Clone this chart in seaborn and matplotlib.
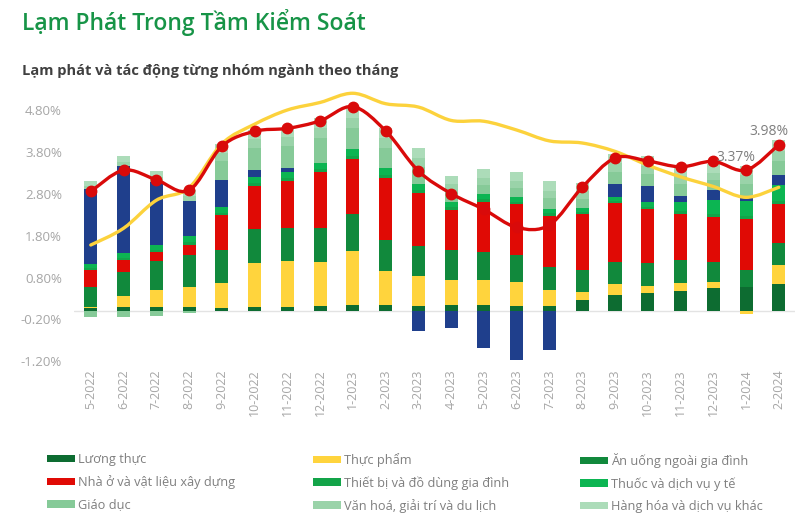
import numpy as np
import seaborn as sns
import matplotlib.pyplot as plt
from matplotlib.path import Path
from matplotlib.patches import PathPatch, Patch

months = ['5-2022', '6-2022', '7-2022', '8-2022', '9-2022', '10-2022', '11-2022',
          '12-2022', '1-2023', '2-2023', '3-2023', '4-2023', '5-2023', '6-2023',
          '7-2023', '8-2023', '9-2023', '10-2023', '11-2023', '12-2023', '1-2024', '2-2024']

# dong gop cua tung nhom (diem %)
luong_thuc = [0.07, 0.10, 0.10, 0.09, 0.08, 0.10, 0.10, 0.12, 0.14, 0.14, 0.13,
              0.14, 0.14, 0.13, 0.13, 0.26, 0.38, 0.42, 0.48, 0.54, 0.57, 0.64]
thuc_pham = [0.02, 0.27, 0.41, 0.48, 0.58, 1.06, 1.09, 1.06, 1.30, 0.82, 0.70,
             0.61, 0.61, 0.56, 0.38, 0.19, 0.26, 0.19, 0.20, 0.15, -0.06, 0.46]
an_uong = [0.48, 0.56, 0.68, 0.76, 0.80, 0.80, 0.80, 0.81, 0.89, 0.74, 0.73,
           0.70, 0.67, 0.65, 0.54, 0.54, 0.54, 0.53, 0.53, 0.49, 0.42, 0.52]
nha_o = [0.42, 0.29, 0.22, 0.26, 0.83, 1.04, 1.12, 1.34, 1.30, 1.49, 1.27,
         0.97, 1.20, 1.22, 1.23, 1.34, 1.40, 1.31, 1.12, 1.07, 1.22, 0.95]
thiet_bi = [0.05, 0.05, 0.06, 0.06, 0.06, 0.06, 0.07, 0.07, 0.08, 0.07, 0.07,
            0.06, 0.06, 0.06, 0.06, 0.05, 0.05, 0.05, 0.06, 0.07, 0.07, 0.07]
thuoc = [0.09, 0.11, 0.12, 0.14, 0.15, 0.14, 0.15, 0.15, 0.16, 0.15, 0.14,
         0.12, 0.12, 0.11, 0.11, 0.09, 0.10, 0.11, 0.21, 0.33, 0.36, 0.37]
giao_thong = [1.78, 2.09, 1.50, 0.85, 0.64, 0.18, 0.09, 0.00, 0.00, 0.00, -0.47,
              -0.40, -0.89, -1.17, -0.93, 0.00, 0.30, 0.37, 0.16, 0.24, 0.10, 0.25]
giao_duc = [-0.14, -0.15, -0.12, -0.04, 0.45, 0.52, 0.53, 0.58, 0.50, 0.48, 0.40,
            0.25, 0.22, 0.22, 0.25, 0.22, 0.30, 0.30, 0.29, 0.24, 0.30, 0.34]
van_hoa = [0.08, 0.10, 0.12, 0.12, 0.20, 0.22, 0.22, 0.25, 0.26, 0.25, 0.22,
           0.18, 0.17, 0.17, 0.18, 0.18, 0.20, 0.20, 0.19, 0.18, 0.22, 0.24]
hang_hoa = [0.12, 0.13, 0.15, 0.14, 0.20, 0.20, 0.22, 0.25, 0.25, 0.24, 0.23,
            0.20, 0.20, 0.20, 0.22, 0.20, 0.22, 0.22, 0.22, 0.20, 0.22, 0.25]

# lam phat chung va lam phat co ban (%)
cpi = [2.86, 3.37, 3.14, 2.89, 3.94, 4.30, 4.37, 4.55, 4.89, 4.31, 3.35,
       2.81, 2.43, 2.00, 2.06, 2.96, 3.66, 3.59, 3.45, 3.58, 3.37, 3.98]
core = [1.58, 1.98, 2.65, 2.95, 4.00, 4.47, 4.81, 4.99, 5.21, 4.96, 4.88,
        4.56, 4.54, 4.33, 4.07, 4.02, 3.82, 3.49, 3.21, 2.98, 2.72, 2.96]

series = [
    ('Lương thực', luong_thuc, '#0d6c31'),
    ('Thực phẩm', thuc_pham, '#ffd43d'),
    ('Ăn uống ngoài gia đình', an_uong, '#11893c'),
    ('Nhà ở và vật liệu xây dựng', nha_o, '#e00a05'),
    ('Thiết bị và đồ dùng gia đình', thiet_bi, '#13a449'),
    ('Thuốc và dịch vụ y tế', thuoc, '#0cb552'),
    ('Giao thông', giao_thong, '#1f3f8c'),
    ('Giáo dục', giao_duc, '#86ca98'),
    ('Văn hoá, giải trí và du lịch', van_hoa, '#9ad3a9'),
    ('Hàng hóa và dịch vụ khác', hang_hoa, '#acdcb9'),
]

sns.set_theme(style='white')
plt.rcParams['font.family'] = ['Open Sans', 'DejaVu Sans']

fig = plt.figure(figsize=(8, 5.24), dpi=100)
ax = fig.add_axes([0.093, 0.3107, 0.901, 0.5185])

x = np.arange(len(months))
pos_bottom = np.zeros(len(months))
neg_bottom = np.zeros(len(months))
for name, vals, color in series:
    v = np.array(vals)
    pos = np.where(v > 0, v, 0)
    neg = np.where(v < 0, v, 0)
    ax.bar(x, pos, bottom=pos_bottom, width=0.4, color=color, linewidth=0, zorder=2)
    ax.bar(x, neg, bottom=neg_bottom, width=0.4, color=color, linewidth=0, zorder=2)
    pos_bottom += pos
    neg_bottom += neg

ax.axhline(0, color='#e3e3e3', lw=1, zorder=1)


def smooth_path(xs, ys):
    pts = np.column_stack([xs, ys]).astype(float)
    verts = [pts[0]]
    codes = [Path.MOVETO]
    n = len(pts)
    for i in range(n - 1):
        p0 = pts[max(i - 1, 0)]
        p1 = pts[i]
        p2 = pts[i + 1]
        p3 = pts[min(i + 2, n - 1)]
        verts += [p1 + (p2 - p0) / 6, p2 - (p3 - p1) / 6, p2]
        codes += [Path.CURVE4] * 3
    return Path(verts, codes)


ax.add_patch(PathPatch(smooth_path(x, core), fill=False, edgecolor='#fcd23c',
                       lw=2.4, zorder=3, capstyle='round'))
ax.add_patch(PathPatch(smooth_path(x, cpi), fill=False, edgecolor='#d90a0a',
                       lw=2.4, zorder=4, capstyle='round'))
ax.plot(x, cpi, 'o', color='#d90a0a', ms=7.5, zorder=5)

ax.annotate('3.98%', (x[-1], cpi[-1]), xytext=(-7, 4), textcoords='offset points',
            ha='center', va='bottom', fontsize=10, color='#7f7f7f', zorder=6)
ax.annotate('3.37%', (x[-2], cpi[-2]), xytext=(-7, 4), textcoords='offset points',
            ha='center', va='bottom', fontsize=10, color='#7f7f7f', zorder=6)

ax.set_xlim(-0.5, len(months) - 0.5)
ax.set_ylim(-1.2, 5.3)
yt = [-1.2, -0.2, 0.8, 1.8, 2.8, 3.8, 4.8]
ax.set_yticks(yt)
ax.set_yticklabels([f'{t:.2f}%' for t in yt], fontsize=9.5, color='#a6a6a6')
ax.set_xticks(x)
ax.set_xticklabels(months, rotation=90, fontsize=9, color='#a6a6a6')
ax.tick_params(axis='both', length=0)
ax.tick_params(axis='y', pad=9)
ax.tick_params(axis='x', pad=6)
for s in ax.spines.values():
    s.set_visible(False)
ax.grid(False)

fig.text(0.027, 0.958, 'Lạm Phát Trong Tầm Kiểm Soát', fontsize=16.5, color='#179447',
         weight='semibold', va='center', ha='left')
fig.text(0.027, 0.865, 'Lạm phát và tác động từng nhóm ngành theo tháng', fontsize=10.5,
         color='#404040', weight='bold', va='center', ha='left')

# legend: 3 cot, moi cot 3 dong (bo Giao thong)
cols = [[0, 3, 7], [1, 4, 8], [2, 5, 9]]
col_x = [47, 313, 580]
for cx, idx in zip(col_x, cols):
    handles = [Patch(facecolor=series[i][2], edgecolor='none', label=series[i][0]) for i in idx]
    fig.legend(handles=handles, loc='upper left', bbox_to_anchor=(cx / 800, 1 - 453 / 524),
               frameon=False, fontsize=9.2, labelcolor='#7f7f7f', handlelength=2.2,
               handleheight=0.55, handletextpad=0.25, labelspacing=0.72,
               borderpad=0, borderaxespad=0)

fig.savefig('out.png', dpi=100)
